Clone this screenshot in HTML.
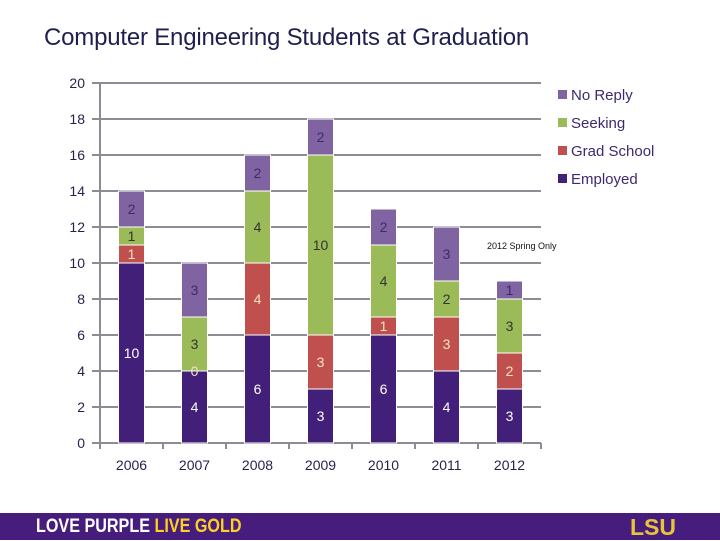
<!DOCTYPE html>
<html><head><meta charset="utf-8"><style>
body{margin:0;width:720px;height:540px;background:#fff;overflow:hidden;font-family:"Liberation Sans",sans-serif}
#title{position:absolute;left:44px;top:24px;font-size:24px;color:#1f1f4f;letter-spacing:-0.2px}
#footer{position:absolute;left:0;top:513px;width:720px;height:27px;background:#461d7c}
</style></head><body>
<div id="title">Computer Engineering Students at Graduation</div>
<svg id="chart" width="720" height="540" style="position:absolute;left:0;top:0"></svg>
<div id="footer">
<span style="position:absolute;left:36px;top:3px;font-size:19px;font-weight:bold;color:#fff;transform:scaleX(0.85);transform-origin:left;display:inline-block">LOVE PURPLE <span style="color:#fdd023">LIVE GOLD</span></span>
<span style="position:absolute;left:630px;top:1px;font-size:23px;font-weight:bold;color:#e8c43a">LSU</span>
</div>
<script>
const years=["2006","2007","2008","2009","2010","2011","2012"];
const employed=[10,4,6,3,6,4,3];
const gradSchool=[1,0,4,3,1,3,2];
const seeking=[1,3,4,10,4,2,3];
const noReply=[2,3,2,2,2,3,1];
const yTicks=[0,2,4,6,8,10,12,14,16,18,20];
const seriesNames=["Employed","Grad School","Seeking","No Reply"];
const colors=["#42207a","#c0504d","#9bbb59","#8064a2"];
const labelColors=["#ffffff","#f5e3c0","#333333","#3d2a6e"];
const svg=document.getElementById('chart');
const NS="http://www.w3.org/2000/svg";
const x0=100,x1=541,y0=443,yMax=20,ppu=18;
const bw=(x1-x0)/years.length;
const yS=v=>y0-v*ppu;
const xC=i=>x0+bw*(i+0.5);
function mk(t,a){const e=document.createElementNS(NS,t);for(const k in a)e.setAttribute(k,a[k]);svg.appendChild(e);return e;}
yTicks.forEach(v=>{
 const l=mk('line',{x1:x0-8,x2:x1,y1:yS(v),y2:yS(v),stroke:'#8c8c94','stroke-width':2});
 
 
 const t=mk('text',{x:85,y:yS(v)+5,'text-anchor':'end','font-size':14,fill:'#2a1f4a'});
 t.textContent=v;
 
 
});
const ax=mk('line',{x1:x0,x2:x0,y1:yS(20),y2:y0+6,stroke:'#8c8c94','stroke-width':2});


for(let i=0;i<=years.length;i++){
 const tk=mk('line',{x1:x0+bw*i,x2:x0+bw*i,y1:y0,y2:y0+6,stroke:'#8c8c94','stroke-width':2});
 
 
}
const series=[employed,gradSchool,seeking,noReply];
const labels=[];
years.forEach((yr,i)=>{
 let base=0;
 series.forEach((s,k)=>{
  const v=s[i];
  const r=mk('rect',{x:xC(i)-13,y:yS(base+v),width:26,height:v*ppu,fill:colors[k],stroke:'#fff','stroke-width':v>0?1:0});
  
  
  labels.push([xC(i),yS(base+v/2)+5,labelColors[k],v]);
  base+=v;
 });
 const t=mk('text',{x:xC(i),y:470,'text-anchor':'middle','font-size':14,fill:'#2a1f4a'});
 t.textContent=yr;
 
 
});
labels.forEach(([x,y,c,v])=>{
 const t=mk('text',{x:x,y:y,'text-anchor':'middle','font-size':14,fill:c});
 t.textContent=v;
 
 
});
const note=mk('text',{x:487,y:249,'font-size':9,fill:'#111'});
note.textContent='2012 Spring Only';


[3,2,1,0].forEach((k,j)=>{
 const y=95+j*28;
 const r=mk('rect',{x:558,y:y-5,width:9,height:9,fill:colors[k]});
 
 
 const t=mk('text',{x:571,y:y+5,'font-size':15,fill:'#3d2a6e'});
 t.textContent=seriesNames[k];
 
 
});
</script>
</body></html>
